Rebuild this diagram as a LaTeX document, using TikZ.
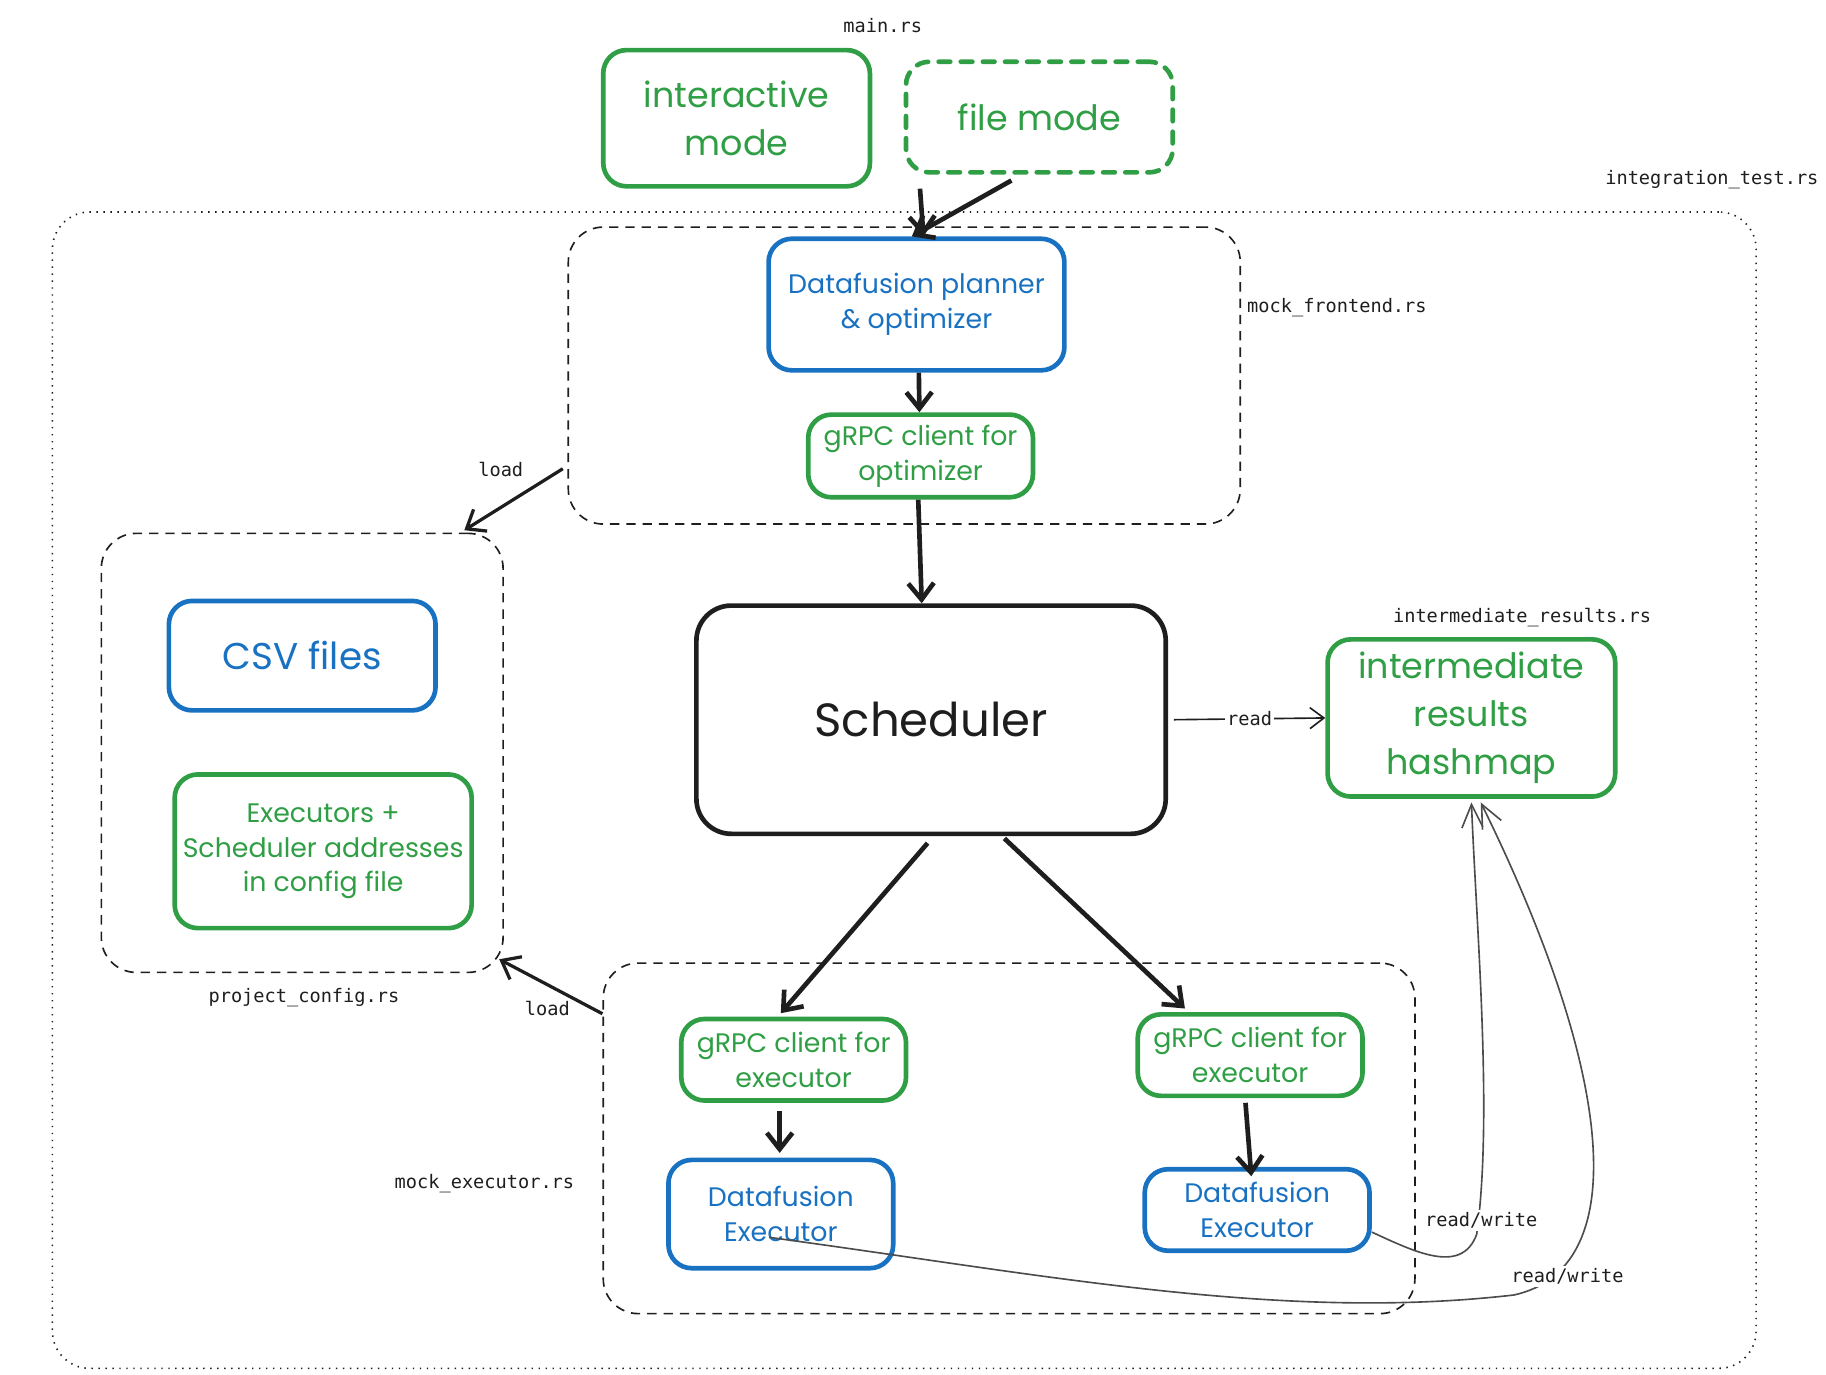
\documentclass[tikz,border=0pt]{standalone}
\usepackage{fontspec}
\setmainfont{Poppins}
\setmonofont{DejaVu Sans Mono}
\usetikzlibrary{arrows.meta}
\usetikzlibrary{calc}
\definecolor{exgreen}{HTML}{2F9E44}
\definecolor{exblue}{HTML}{1971C2}
\definecolor{exblack}{HTML}{1E1E1E}
\newcommand{\handsize}[2]{\fontsize{#1}{#2}\selectfont}

\begin{document}
\begin{tikzpicture}[x=0.5pt, y=-0.5pt,
  box/.style={rounded corners=10pt, line width=2pt, align=center, inner sep=0pt},
  greenbox/.style={box, draw=exgreen, text=exgreen},
  bluebox/.style={box, draw=exblue, text=exblue},
  codeframe/.style={draw=exblack, dash pattern=on 4pt off 3pt, line width=0.7pt, rounded corners=15pt, inner sep=0pt},
  fname/.style={font=\ttfamily\handsize{8}{10}, text=exblack, inner sep=1pt},
  arr/.style={draw=exblack, line width=2pt, -{Straight Barb[length=7pt,width=11pt]}},
  midarr/.style={draw=exblack, line width=1.4pt, -{Straight Barb[length=7pt,width=11pt]}},
  thinarr/.style={draw=exblack, line width=0.7pt, -{Straight Barb[length=6pt,width=9pt]}},
  rwarr/.style={draw=black!70, line width=0.7pt, -{Straight Barb[length=10pt,width=9pt]}}]
\useasboundingbox (0,0) rectangle (1568,1180);

% frames
\node[codeframe, dash pattern=on 0.6pt off 2.4pt, rounded corners=16pt, minimum width=731.5pt, minimum height=496.5pt] (outer) at (776.5,678.5) {};
\node[codeframe, minimum width=288.5pt, minimum height=127.5pt] (frontend) at (776.5,322.5) {};
\node[codeframe, minimum width=172.5pt, minimum height=188.5pt] (projcfg) at (259.5,646.5) {};
\node[codeframe, minimum width=348.5pt, minimum height=150.5pt] (execframe) at (866.5,977.5) {};

% main.rs
\node[greenbox, minimum width=114.5pt, minimum height=58.5pt, font=\handsize{15}{20.5}] (interactive) at (632.5,101.5) {interactive\\mode};
\node[greenbox, dash pattern=on 5pt off 4.5pt, line cap=round, minimum width=114.5pt, minimum height=47.5pt, font=\handsize{15}{20.5}] (filemode) at (892.5,100.5) {file mode};

% frontend
\node[bluebox, minimum width=127pt, minimum height=56.5pt, font=\handsize{11.5}{15}] (planner) at (787,261.5) {Datafusion planner\\\& optimizer};
\node[greenbox, minimum width=96.5pt, minimum height=35.5pt, font=\handsize{11.5}{15}] (grpcopt) at (790.5,391.5) {gRPC client for\\optimizer};

% scheduler and results
\node[box, draw=exblack, text=exblack, rounded corners=15pt, minimum width=201.5pt, minimum height=98pt, font=\handsize{20}{24}] (scheduler) at (799.5,618) {Scheduler};
\node[greenbox, minimum width=123.5pt, minimum height=67.5pt, font=\handsize{15}{20.5}] (hashmap) at (1263.5,616.5) {intermediate\\results\\hashmap};

% config
\node[bluebox, minimum width=114.5pt, minimum height=47pt, font=\handsize{16}{20}] (csv) at (259.5,563) {CSV files};
\node[greenbox, minimum width=127.5pt, minimum height=66pt, font=\handsize{11.5}{14.75}] (config) at (277.5,731) {Executors +\\Scheduler addresses\\in config file};

% executors
\node[greenbox, minimum width=96.5pt, minimum height=35pt, font=\handsize{11.5}{15}] (grpcex1) at (681.5,910) {gRPC client for\\executor};
\node[greenbox, minimum width=96.5pt, minimum height=35pt, font=\handsize{11.5}{15}] (grpcex2) at (1073.5,906) {gRPC client for\\executor};
\node[bluebox, minimum width=96.5pt, minimum height=46.5pt, font=\handsize{11.5}{15}] (exec1) at (670.5,1042.5) {Datafusion\\Executor};
\node[bluebox, minimum width=96.5pt, minimum height=35pt, font=\handsize{11.5}{15}] (exec2) at (1079.5,1039) {Datafusion\\Executor};

% file names
\node[fname] (mainrs) at (758,22) {main.rs};
\node[fname] (itest) at (1470,154) {integration\_test.rs};
\node[fname] (mfront) at (1148,264) {mock\_frontend.rs};
\node[fname] (pconf) at (261,857) {project\_config.rs};
\node[fname] (iresults) at (1307,530) {intermediate\_results.rs};
\node[fname] (mexec) at (416,1016) {mock\_executor.rs};

% arrows
\draw[arr] ($(filemode.south west)+(14,12)$) -- ($(planner.north)+(6,0)$);
\draw[arr] ($(filemode.south)+(-24,5)$) -- ($(planner.north)+(-4,0)$);
\draw[arr] ($(planner.south)+(2,0)$) -- ($(grpcopt.north)+(-1,0)$);
\draw[arr] ($(grpcopt.south)+(-2,0)$) -- ($(scheduler.north)+(-8,0)$);
\draw[thinarr] ($(scheduler.east)+(5,0)$) -- (hashmap.west) node[midway, fname, fill=white] (readlbl) {read};
\draw[midarr] ($(frontend.west)+(-4,80)$) -- ($(projcfg.north east)+(-34,-2)$);
\node[fname] (load1) at (430,403) {load};
\draw[midarr] ($(execframe.west)+(0,-107)$) -- ($(projcfg.south east)+(-4,-12)$);
\node[fname] (load2) at (470,866) {load};
\draw[arr] ($(scheduler.south)+(-3,6)$) -- ($(grpcex1.north)+(-11,-3)$);
\draw[arr] ($(scheduler.south)+(63,2)$) -- ($(grpcex2.north)+(-56,-3)$);
\draw[arr] ($(grpcex1.south)+(-12,7)$) -- ($(exec1.north)+(-1,-4)$);
\draw[arr] ($(grpcex2.south)+(-4,4)$) -- ($(exec2.north)+(-5,8)$);

% read/write
\draw[rwarr] ($(exec2.east)+(0,19)$) .. controls (1215,1075) and (1255,1095) .. (1268,1060) .. controls (1282,960) and (1268,800) .. ($(hashmap.south)+(0,3)$);
\draw[rwarr] ($(exec1.center)+(-10,20)$) .. controls (900,1095) and (1100,1135) .. (1300,1112) .. controls (1400,1090) and (1390,930) .. ($(hashmap.south)+(8,3)$);
\node[fname, fill=white] (rw1) at (1272,1048) {read/write};
\node[fname, fill=white] (rw2) at (1346,1096) {read/write};
\end{tikzpicture}
\end{document}
